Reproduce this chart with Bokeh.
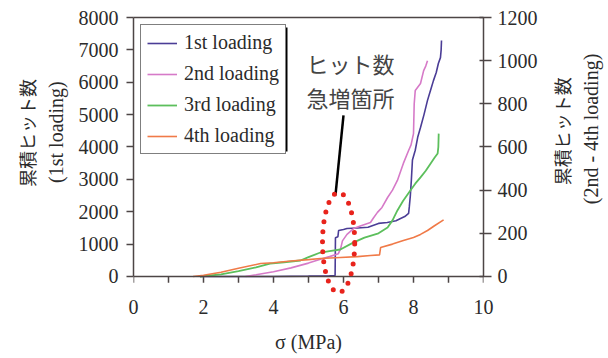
import numpy as np
from bokeh.plotting import figure
from bokeh.layouts import row
from bokeh.models import (Range1d, LinearAxis, Label, Legend, LegendItem,
                          FixedTicker, PolyAnnotation, Span, BoxAnnotation)
from bokeh.embed import file_html
from bokeh.resources import INLINE

# ---------------- data ----------------
x_ticks = [0, 2, 4, 6, 8, 10]
x_minor = [1, 3, 5, 7, 9]
left_ticks = [0, 1000, 2000, 3000, 4000, 5000, 6000, 7000, 8000]
right_ticks = [0, 200, 400, 600, 800, 1000, 1200]

# 1st loading (left axis)
s1_x = [1.9, 3.0, 4.0, 5.0, 5.6, 5.76, 5.77, 5.84, 5.86, 6.0, 6.1, 6.4, 6.7,
        7.0, 7.25, 7.5, 7.63, 7.75, 7.86, 7.88, 7.91, 7.94, 7.97, 8.05,
        8.12, 8.2, 8.3, 8.4, 8.5, 8.57, 8.65, 8.71, 8.77, 8.79, 8.8]
s1_y = [0, 0, 0, 10, 20, 30, 1200, 1230, 1420, 1450, 1480, 1500, 1520,
        1640, 1670, 1720, 1790, 1850, 1950, 2150, 2500, 3000, 3600, 3900,
        4300, 4600, 5000, 5440, 5800, 6050, 6300, 6580, 6760, 7000, 7290]

# 2nd loading (right axis)
s2_x = [3.2, 3.5, 4.0, 4.5, 5.0, 5.34, 5.6, 5.85, 5.92, 5.97, 6.1, 6.29, 6.5,
        6.77, 6.85, 6.97, 7.1, 7.26, 7.4, 7.54, 7.71, 7.86, 7.93, 8.0, 8.02,
        8.05, 8.2, 8.29, 8.35, 8.4]
s2_y = [0, 8, 22, 40, 62, 80, 92, 105, 130, 165, 195, 222, 235, 250, 270,
        297, 320, 366, 400, 445, 524, 584, 610, 662, 800, 862, 894, 954,
        975, 1000]

# 3rd loading (right axis)
s3_x = [1.9, 2.5, 3.0, 3.5, 3.9, 4.3, 4.77, 5.0, 5.34, 5.6, 5.91, 6.29, 6.6,
        7.0, 7.26, 7.4, 7.54, 7.7, 7.91, 8.05, 8.2, 8.35, 8.49, 8.6, 8.69,
        8.71, 8.72]
s3_y = [0, 10, 25, 42, 60, 66, 74, 90, 111, 118, 125, 158, 180, 200, 227,
        260, 306, 350, 398, 430, 459, 490, 524, 550, 570, 600, 662]

# 4th loading (right axis)
s4_x = [1.7, 2.0, 2.5, 3.0, 3.63, 4.0, 4.5, 5.0, 5.34, 5.91, 6.4, 6.77, 7.03,
        7.06, 7.4, 7.71, 8.0, 8.2, 8.4, 8.6, 8.86]
s4_y = [0, 6, 20, 38, 60, 64, 72, 78, 83, 88, 92, 97, 100, 134, 150, 167,
        181, 195, 213, 235, 262]

# ---------------- styling ----------------
FONT = "Liberation Serif"
JFONT = "Noto Sans CJK JP"
AX = "#4d4545"
TXT = "#2b2b2b"
H = 358
LEFT_W = 70      # strip holding the left axis titles
RIGHT_W = 65     # strip holding the right axis titles
MAIN_W = 608 - LEFT_W - RIGHT_W

# ---------------- main figure ----------------
# y range extends a little below 0 so the dotted ellipse can reach below the x axis
p = figure(width=MAIN_W, height=H, output_backend="svg", toolbar_location=None,
           x_range=Range1d(0, 10), y_range=Range1d(-680, 8000),
           min_border_left=63, min_border_right=60,
           min_border_top=17, min_border_bottom=60)
p.extra_y_ranges = {"right": Range1d(-102, 1200)}
p.grid.visible = False
p.background_fill_color = "white"
p.border_fill_color = "white"
p.outline_line_color = None

# bottom axis: labels only (line & ticks drawn at y = 0 below)
xa = p.xaxis[0]
xa.ticker = FixedTicker(ticks=x_ticks, minor_ticks=x_minor)
xa.axis_label = "σ (MPa)"
xa.axis_label_text_font = FONT
xa.axis_label_text_font_style = "normal"
xa.axis_label_text_font_size = "20px"
xa.axis_label_text_color = TXT
xa.axis_label_standoff = 14
xa.major_label_text_font = FONT
xa.major_label_text_font_size = "20px"
xa.major_label_text_color = TXT
xa.major_label_standoff = 1
xa.major_tick_out = 0
xa.major_tick_in = 0
xa.minor_tick_out = 0
xa.minor_tick_in = 0
xa.axis_line_color = None
xa.major_tick_line_color = None
xa.minor_tick_line_color = None

p.add_layout(Span(location=0, dimension="width", line_color=AX, line_width=1.5))
tick_x = x_ticks + x_minor
p.segment(x0=tick_x, y0=[0] * len(tick_x), x1=tick_x, y1=[-190] * len(tick_x),
          line_color=AX, line_width=1.5)

# top frame line
top = LinearAxis(ticker=FixedTicker(ticks=[], minor_ticks=[]))
top.major_tick_out = 0
top.minor_tick_out = 0
top.major_label_standoff = 0
top.major_label_text_font_size = "0px"
top.axis_line_color = AX
top.axis_line_width = 1.5
p.add_layout(top, "above")

# left axis
ya = p.yaxis[0]
ya.ticker = FixedTicker(ticks=left_ticks, minor_ticks=[])
ya.bounds = (0, 8000)
ya.major_label_text_font = FONT
ya.major_label_text_font_size = "20px"
ya.major_label_text_color = TXT
ya.major_label_standoff = 8
ya.major_tick_out = 7
ya.major_tick_in = 0
ya.axis_line_color = AX
ya.axis_line_width = 1.5
ya.major_tick_line_color = AX
ya.major_tick_line_width = 1.5

# right axis (ticks and numbers)
ra = LinearAxis(y_range_name="right",
                ticker=FixedTicker(ticks=right_ticks, minor_ticks=[]))
ra.bounds = (0, 1200)
ra.major_label_text_font = FONT
ra.major_label_text_font_size = "20px"
ra.major_label_text_color = TXT
ra.major_label_standoff = 6
ra.major_tick_out = 8
ra.major_tick_in = 4
ra.axis_line_color = AX
ra.axis_line_width = 1.5
ra.major_tick_line_color = AX
ra.major_tick_line_width = 1.5
p.add_layout(ra, "right")

# series
r1 = p.line(s1_x, s1_y, line_color="#4b3d96", line_width=1.6)
r2 = p.line(s2_x, s2_y, line_color="#d67ac8", line_width=1.6, y_range_name="right")
r3 = p.line(s3_x, s3_y, line_color="#5cbf5c", line_width=1.8, y_range_name="right")
r4 = p.line(s4_x, s4_y, line_color="#f07a48", line_width=1.6, y_range_name="right")

# red dotted ellipse and arrow line
ell_cx, ell_cy, ell_w, ell_h = 5.86, 1050, 0.92, 3090
t = np.linspace(0, 2 * np.pi, 121)
ell = PolyAnnotation(xs=list(ell_cx + ell_w / 2 * np.cos(t)),
                     ys=list(ell_cy + ell_h / 2 * np.sin(t)),
                     xs_units="data", ys_units="data",
                     fill_alpha=0, line_color="#e8231c", line_alpha=1.0,
                     line_width=5, line_dash="0 10", line_cap="round")
p.add_layout(ell)

arrow_x = [6.0, 5.77]
arrow_y = [4973, 2502]
p.line(arrow_x, arrow_y, line_color="black", line_width=2.5)

# annotation text
p.add_layout(Label(x=6.2, y=6580, text="ヒット数", text_font=JFONT,
                   text_font_size="22px", text_color="#444444",
                   text_align="center", text_baseline="middle"))
p.add_layout(Label(x=6.2, y=5530, text="急増箇所", text_font=JFONT,
                   text_font_size="22px", text_color="#444444",
                   text_align="center", text_baseline="middle"))

# legend shadow (screen units relative to the frame's lower-left corner)
shadow = BoxAnnotation(left=10, right=154, top=271, bottom=147,
                       left_units="screen", right_units="screen",
                       top_units="screen", bottom_units="screen",
                       fill_color="black", fill_alpha=1.0, line_color=None)
p.add_layout(shadow)

legend = Legend(items=[LegendItem(label="1st loading", renderers=[r1]),
                       LegendItem(label="2nd loading", renderers=[r2]),
                       LegendItem(label="3rd loading", renderers=[r3]),
                       LegendItem(label="4th loading", renderers=[r4])],
                location="top_left", orientation="vertical")
legend.label_text_font = FONT
legend.label_text_font_size = "20px"
legend.label_text_color = TXT
legend.glyph_width = 30
legend.glyph_height = 20
legend.label_height = 20
legend.label_standoff = 7
legend.spacing = 8
legend.padding = 6
legend.margin = 7
legend.border_line_color = "black"
legend.border_line_width = 1.5
legend.background_fill_color = "white"
legend.background_fill_alpha = 1.0
p.add_layout(legend)


# ---------------- side strips with the rotated axis titles ----------------
def strip(width):
    s = figure(width=width, height=H, output_backend="svg", toolbar_location=None,
               x_range=Range1d(0, width), y_range=Range1d(0, H),
               x_axis_type=None, y_axis_type=None,
               min_border=0, min_border_left=0, min_border_right=0,
               min_border_top=0, min_border_bottom=0)
    s.grid.visible = False
    s.outline_line_color = None
    s.background_fill_color = "white"
    s.border_fill_color = "white"
    return s


def vtitle(s, x, y_from_top, text, font, size):
    s.add_layout(Label(x=x, y=H - y_from_top, text=text, text_font=font,
                       text_font_size=size, text_color=TXT, angle=np.pi / 2,
                       text_align="center", text_baseline="middle"))


left_strip = strip(LEFT_W)
vtitle(left_strip, 26, 147, "累積ヒット数", JFONT, "18px")
vtitle(left_strip, 55, 146, "(1st loading)", FONT, "20px")

right_strip = strip(RIGHT_W)
vtitle(right_strip, 561 - (608 - RIGHT_W), 145, "累積ヒット数", JFONT, "18px")
vtitle(right_strip, 590 - (608 - RIGHT_W), 142, "(2nd - 4th loading)", FONT, "20px")

layout = row(left_strip, p, right_strip, spacing=0)
open("out.html", "w").write(file_html(layout, INLINE))
